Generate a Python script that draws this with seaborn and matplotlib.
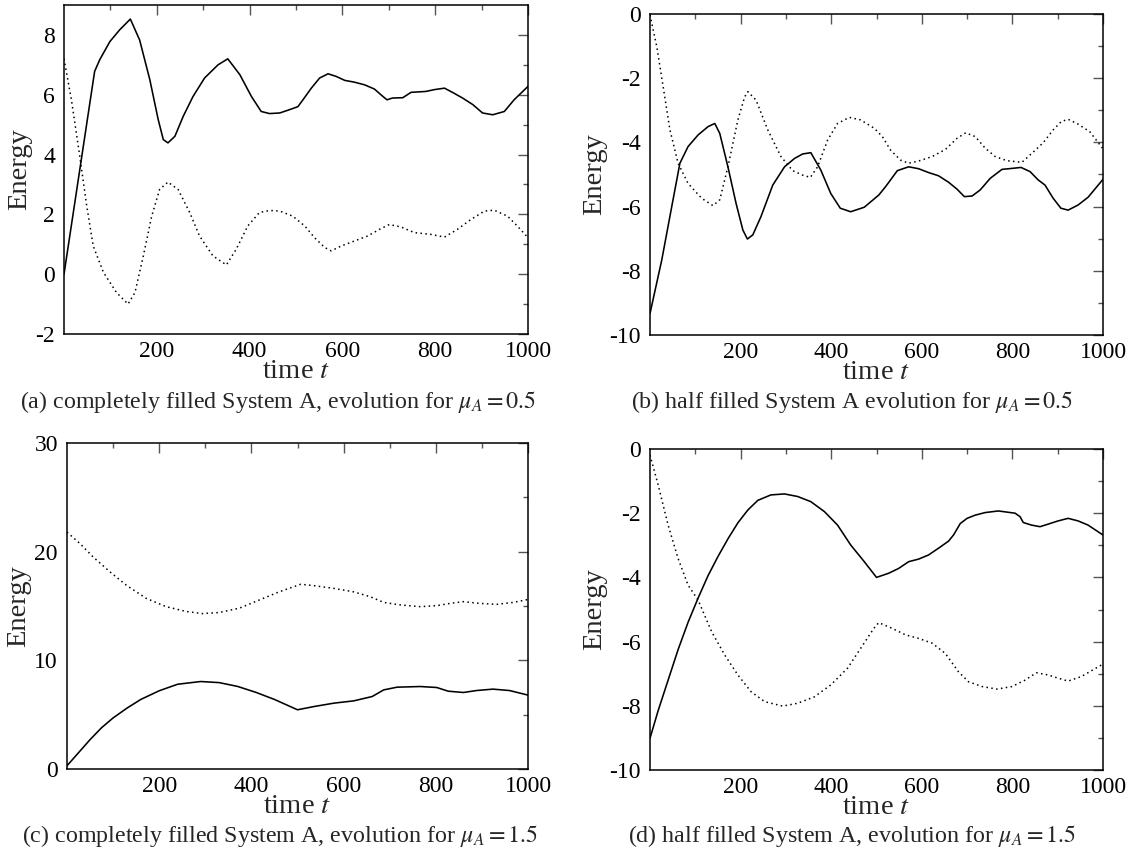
import numpy as np
import pandas as pd
import matplotlib
matplotlib.use("Agg")
import matplotlib.pyplot as plt
import seaborn as sns
from matplotlib.ticker import FixedLocator

# ---------------- data ----------------
# (a) completely filled, mu_A = 0.5
a_solid_t = [0, 66, 77, 99, 120, 143, 163, 185, 203, 214, 224, 239, 257, 278, 303, 332, 353, 379, 404, 425,
             443, 465, 486, 504, 515, 533, 551, 569, 587, 605, 626, 648, 669, 683, 696, 708, 730, 748, 780,
             798, 820, 837, 859, 881, 902, 924, 949, 970, 1000]
a_solid_E = [0.0, 6.78, 7.17, 7.78, 8.17, 8.53, 7.83, 6.5, 5.17, 4.5, 4.39, 4.61, 5.28, 5.94, 6.56, 7.0, 7.2,
             6.67, 5.94, 5.44, 5.37, 5.39, 5.5, 5.6, 5.83, 6.22, 6.56, 6.7, 6.61, 6.48, 6.42, 6.33, 6.19, 6.0,
             5.83, 5.89, 5.9, 6.08, 6.11, 6.17, 6.22, 6.08, 5.89, 5.67, 5.39, 5.33, 5.44, 5.83, 6.28]
a_dot_t = [0, 16, 34, 49, 63, 85, 113, 138, 153, 171, 189, 206, 224, 246, 271, 292, 321, 350, 371, 396, 421,
           443, 465, 493, 519, 540, 562, 576, 597, 626, 655, 680, 701, 726, 755, 791, 820, 848, 877, 906, 927,
           956, 977, 1000]
a_dot_E = [7.2, 5.83, 3.94, 2.28, 0.94, 0.06, -0.61, -1.0, -0.61, 0.61, 1.94, 2.83, 3.08, 2.83, 2.06, 1.28,
           0.61, 0.31, 0.83, 1.61, 2.06, 2.13, 2.11, 1.94, 1.61, 1.22, 0.89, 0.78, 0.94, 1.11, 1.28, 1.5, 1.66,
           1.58, 1.39, 1.33, 1.24, 1.5, 1.83, 2.11, 2.14, 1.94, 1.61, 1.22]

# (b) half filled, mu_A = 0.5
b_solid_t = [0, 26, 48, 66, 84, 106, 128, 143, 154, 172, 190, 205, 215, 227, 245, 271, 297, 319, 337, 355,
             377, 399, 420, 443, 473, 505, 520, 546, 571, 593, 615, 637, 659, 678, 694, 711, 729, 751, 777,
             799, 819, 839, 857, 872, 890, 907, 923, 945, 967, 1000]
b_solid_E = [-9.33, -7.66, -6.0, -4.65, -4.13, -3.77, -3.51, -3.41, -3.72, -4.76, -5.9, -6.73, -7.01, -6.88,
             -6.31, -5.33, -4.76, -4.5, -4.36, -4.32, -4.86, -5.59, -6.05, -6.16, -6.02, -5.64, -5.38, -4.88,
             -4.76, -4.82, -4.94, -5.04, -5.24, -5.46, -5.69, -5.67, -5.48, -5.12, -4.84, -4.81, -4.78, -4.91,
             -5.17, -5.33, -5.74, -6.05, -6.11, -5.95, -5.71, -5.15]
b_dot_t = [0, 15, 29, 44, 62, 84, 114, 139, 154, 172, 194, 209, 216, 234, 260, 289, 315, 337, 354, 370, 392,
           414, 440, 465, 495, 513, 531, 553, 571, 593, 623, 652, 678, 697, 718, 740, 762, 788, 821, 843, 868,
           890, 908, 923, 945, 971, 1000]
b_dot_E = [-0.03, -1.02, -2.26, -3.61, -4.65, -5.28, -5.74, -5.97, -5.79, -4.76, -3.3, -2.58, -2.42, -2.68,
           -3.61, -4.44, -4.88, -5.02, -5.09, -4.76, -3.93, -3.41, -3.22, -3.3, -3.56, -3.82, -4.24, -4.55,
           -4.65, -4.58, -4.44, -4.22, -3.87, -3.7, -3.82, -4.18, -4.44, -4.57, -4.62, -4.34, -4.01, -3.61,
           -3.35, -3.28, -3.43, -3.67, -4.2]

# (c) completely filled, mu_A = 1.5
c_solid_t = [0, 25, 50, 75, 100, 130, 160, 200, 240, 290, 330, 370, 410, 450, 500, 536, 579, 622, 662, 687,
             716, 766, 802, 827, 860, 888, 924, 960, 1000]
c_solid_E = [0.3, 1.5, 2.7, 3.8, 4.7, 5.6, 6.4, 7.2, 7.8, 8.05, 7.95, 7.6, 7.05, 6.4, 5.45, 5.75, 6.06, 6.27,
             6.67, 7.28, 7.53, 7.59, 7.5, 7.16, 7.04, 7.22, 7.35, 7.22, 6.8]
c_dot_t = [0, 28, 57, 93, 129, 172, 215, 258, 294, 330, 374, 417, 460, 507, 536, 579, 622, 658, 687, 723,
           766, 802, 831, 860, 895, 932, 968, 1000]
c_dot_E = [21.8, 20.75, 19.5, 18.15, 16.9, 15.7, 14.94, 14.5, 14.3, 14.4, 14.8, 15.55, 16.3, 17.0, 16.87,
           16.62, 16.3, 15.85, 15.33, 15.1, 14.94, 15.03, 15.24, 15.4, 15.24, 15.15, 15.33, 15.6]

# (d) half filled, mu_A = 1.5
d_solid_t = [0, 18, 40, 62, 84, 106, 128, 150, 172, 194, 216, 238, 267, 297, 326, 355, 385, 414, 443, 473,
             500, 527, 549, 571, 593, 615, 637, 659, 670, 685, 700, 718, 740, 769, 806, 817, 824, 842, 861,
             879, 901, 923, 945, 967, 1000]
d_solid_E = [-9.01, -8.15, -7.2, -6.25, -5.4, -4.65, -3.95, -3.35, -2.8, -2.3, -1.9, -1.6, -1.43, -1.4,
             -1.48, -1.64, -1.95, -2.37, -2.99, -3.51, -4.0, -3.87, -3.72, -3.51, -3.43, -3.3, -3.09, -2.87,
             -2.68, -2.32, -2.16, -2.06, -1.98, -1.93, -2.0, -2.11, -2.29, -2.37, -2.42, -2.34, -2.24, -2.16,
             -2.24, -2.37, -2.68]
d_dot_t = [0, 18, 40, 62, 84, 106, 136, 165, 194, 223, 253, 293, 326, 363, 399, 436, 465, 494, 505, 535, 564,
           593, 623, 652, 681, 703, 733, 766, 799, 828, 853, 879, 901, 923, 952, 1000]
d_dot_E = [-0.19, -1.12, -2.37, -3.41, -4.24, -4.7, -5.69, -6.42, -7.04, -7.56, -7.87, -8.01, -7.92, -7.72,
           -7.35, -6.83, -6.21, -5.59, -5.41, -5.59, -5.79, -5.9, -6.05, -6.37, -6.94, -7.25, -7.4, -7.48,
           -7.4, -7.2, -6.97, -7.04, -7.14, -7.23, -7.09, -6.7]

x_major = [200, 400, 600, 800, 1000]
x_minor = [100, 300, 500, 700, 900]

captions = [r"(a) completely filled System A, evolution for $\mu_A = 0.5$",
            r"(b) half filled System A evolution for $\mu_A = 0.5$",
            r"(c) completely filled System A, evolution for $\mu_A = 1.5$",
            r"(d) half filled System A, evolution for $\mu_A = 1.5$"]

# ---------------- style ----------------
sns.set_style("white")
plt.rcParams.update({
    "font.family": ["Liberation Serif", "DejaVu Serif"],
    "mathtext.fontset": "stix",
    "axes.unicode_minus": False,
    "axes.edgecolor": "black",
    "axes.linewidth": 1.1,
})

W, H = 1138, 857
fig = plt.figure(figsize=(W / 100, H / 100), dpi=100)


def add_ax(l, r, t, b):
    return fig.add_axes([l / W, 1 - b / H, (r - l) / W, (b - t) / H])


panels = [
    dict(box=(64, 528, 5, 334), ylim=(-2, 9), ymaj=[-2, 0, 2, 4, 6, 8], ymin=[-1, 1, 3, 5, 7],
         solid=(a_solid_t, a_solid_E), dot=(a_dot_t, a_dot_E), cpos=(278, 402)),
    dict(box=(650, 1103, 14, 335), ylim=(-10, 0), ymaj=[-10, -8, -6, -4, -2, 0], ymin=[-9, -7, -5, -3, -1],
         solid=(b_solid_t, b_solid_E), dot=(b_dot_t, b_dot_E), cpos=(852, 402)),
    dict(box=(67, 528, 443, 769), ylim=(0, 30), ymaj=[0, 10, 20, 30], ymin=[5, 15, 25],
         solid=(c_solid_t, c_solid_E), dot=(c_dot_t, c_dot_E), cpos=(280, 836)),
    dict(box=(650, 1103, 449, 770), ylim=(-10, 0), ymaj=[-10, -8, -6, -4, -2, 0], ymin=[-9, -7, -5, -3, -1],
         solid=(d_solid_t, d_solid_E), dot=(d_dot_t, d_dot_E), cpos=(852, 836)),
]

for p, caption in zip(panels, captions):
    ax = add_ax(*p["box"])
    ds = pd.DataFrame({"t": p["solid"][0], "E": p["solid"][1]})
    dd = pd.DataFrame({"t": p["dot"][0], "E": p["dot"][1]})
    sns.lineplot(data=ds, x="t", y="E", ax=ax, color="black", linewidth=1.15, estimator=None, sort=False)
    sns.lineplot(data=dd, x="t", y="E", ax=ax, color="black", linewidth=1.1, estimator=None, sort=False,
                 linestyle=(0, (1, 2.2)))
    ax.set_xlim(0, 1000)
    ax.set_ylim(*p["ylim"])
    ax.xaxis.set_major_locator(FixedLocator(x_major))
    ax.xaxis.set_minor_locator(FixedLocator(x_minor))
    ax.yaxis.set_major_locator(FixedLocator(p["ymaj"]))
    ax.yaxis.set_minor_locator(FixedLocator(p["ymin"]))
    ax.tick_params(which="both", direction="in", top=True, right=True, color="#555555", width=1.0,
                   labelsize=17, labelcolor="black")
    ax.tick_params(which="major", length=7)
    ax.tick_params(which="minor", length=3.5)
    ax.tick_params(axis="x", which="major", pad=5)
    ax.tick_params(axis="y", which="major", pad=6.5)
    for s in ax.spines.values():
        s.set_visible(True)
        s.set_color("black")
        s.set_linewidth(1.1)
    ax.set_xlabel("time $t$", fontsize=20.5, labelpad=-2)
    ax.set_ylabel("Energy", fontsize=20.5, labelpad=2)
    cx, cy = p["cpos"]
    fig.text(cx / W, 1 - cy / H, caption, ha="center", va="center", fontsize=17.3)

fig.savefig("out.png", dpi=100)
